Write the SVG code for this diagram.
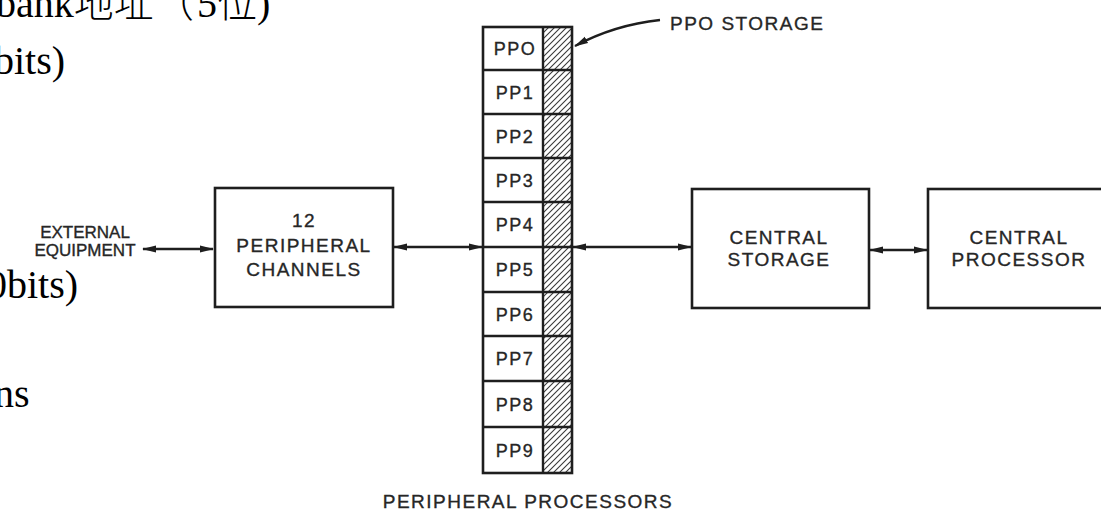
<svg xmlns="http://www.w3.org/2000/svg" width="1101" height="514" viewBox="0 0 1101 514">
<style>
.bg{fill:#ffffff}
.box{fill:#ffffff;stroke:#1e1e1e;stroke-width:2.6}
.ln{fill:none;stroke:#1e1e1e;stroke-width:2.4}
.lbl{font-family:"Liberation Sans",Arial,sans-serif;font-size:19px;letter-spacing:1.5px;fill:#262626;stroke:#262626;stroke-width:0.35;text-anchor:middle}
.sm{font-size:17px;letter-spacing:0px}
.pp{font-family:"Liberation Sans",Arial,sans-serif;font-size:18px;letter-spacing:1.5px;fill:#262626;stroke:#262626;stroke-width:0.35;text-anchor:middle}
.ov{font-family:"Liberation Serif","Times New Roman","Noto Sans CJK SC",serif;font-size:40px;fill:#000000}
.cjk{font-family:"Noto Sans CJK SC","Liberation Serif",sans-serif;font-weight:300}
</style>
<defs>
<pattern id="hatch" patternUnits="userSpaceOnUse" width="6" height="6">
<path d="M0,6 L6,0 M-1,1 L1,-1 M5,7 L7,5" stroke="#3a3a3a" stroke-width="1.1"/>
</pattern>
<marker id="ah" viewBox="0 0 14 8" refX="13" refY="4" markerWidth="14" markerHeight="8" markerUnits="userSpaceOnUse" orient="auto-start-reverse">
<path d="M0,0.5 L14,4 L0,7.5 Z" fill="#1e1e1e"/>
</marker>
</defs>
<rect class="bg" x="0" y="0" width="1101" height="514"/>

<g id="overlay-text">
<text class="ov" x="-4" y="17">bank<tspan class="cjk">地址</tspan><tspan class="cjk" x="154">（</tspan><tspan x="197">5</tspan><tspan class="cjk">位</tspan>)</text>
<text class="ov" x="-6" y="74">bits)</text>
<text class="ov" x="-13" y="298">0bits)</text>
<text class="ov" x="-6" y="407">ns</text>
</g>

<g id="connectors">
<line class="ln" x1="143" y1="249" x2="213" y2="249" marker-start="url(#ah)" marker-end="url(#ah)"/>
<line class="ln" x1="394" y1="247" x2="482" y2="247" marker-start="url(#ah)" marker-end="url(#ah)"/>
<line class="ln" x1="573" y1="247" x2="691" y2="247" marker-start="url(#ah)" marker-end="url(#ah)"/>
<line class="ln" x1="870" y1="250" x2="927" y2="250" marker-start="url(#ah)" marker-end="url(#ah)"/>
<path class="ln" d="M660,20 C632,23 603,31 575,46" stroke-width="1.8" marker-end="url(#ah)"/>
</g>

<g id="node-external">
<text class="lbl sm" x="85" y="238">EXTERNAL</text>
<text class="lbl sm" x="85" y="256">EQUIPMENT</text>
</g>

<g id="node-channels">
<rect class="box" x="215" y="188" width="178" height="119"/>
<text class="lbl" x="304" y="227">12</text>
<text class="lbl" x="304" y="252">PERIPHERAL</text>
<text class="lbl" x="304" y="276">CHANNELS</text>
</g>

<g id="node-pp">
<rect x="543" y="27" width="29" height="446" fill="url(#hatch)"/>
<rect x="483" y="27" width="89" height="446" fill="none" stroke="#1e1e1e" stroke-width="2.6"/>
<line class="ln" x1="543" y1="27" x2="543" y2="473"/>
<line class="ln" x1="483" y1="70" x2="572" y2="70"/>
<line class="ln" x1="483" y1="114" x2="572" y2="114"/>
<line class="ln" x1="483" y1="158" x2="572" y2="158"/>
<line class="ln" x1="483" y1="202" x2="572" y2="202"/>
<line class="ln" x1="483" y1="247" x2="572" y2="247"/>
<line class="ln" x1="483" y1="292" x2="572" y2="292"/>
<line class="ln" x1="483" y1="336" x2="572" y2="336"/>
<line class="ln" x1="483" y1="381" x2="572" y2="381"/>
<line class="ln" x1="483" y1="427" x2="572" y2="427"/>
<text class="pp" x="515" y="55">PPO</text>
<text class="pp" x="515" y="99">PP1</text>
<text class="pp" x="515" y="143">PP2</text>
<text class="pp" x="515" y="187">PP3</text>
<text class="pp" x="515" y="231">PP4</text>
<text class="pp" x="515" y="276">PP5</text>
<text class="pp" x="515" y="321">PP6</text>
<text class="pp" x="515" y="365">PP7</text>
<text class="pp" x="515" y="411">PP8</text>
<text class="pp" x="515" y="457">PP9</text>
<text class="lbl" x="528" y="508">PERIPHERAL  PROCESSORS</text>
</g>

<g id="label-ppo-storage">
<text class="lbl" x="670" y="30" style="text-anchor:start">PPO  STORAGE</text>
</g>

<g id="node-storage">
<rect class="box" x="692" y="189" width="177" height="119"/>
<text class="lbl" x="779" y="244">CENTRAL</text>
<text class="lbl" x="779" y="266">STORAGE</text>
</g>

<g id="node-processor">
<rect class="box" x="928" y="189" width="180" height="119"/>
<text class="lbl" x="1019" y="244">CENTRAL</text>
<text class="lbl" x="1019" y="266">PROCESSOR</text>
</g>
</svg>
